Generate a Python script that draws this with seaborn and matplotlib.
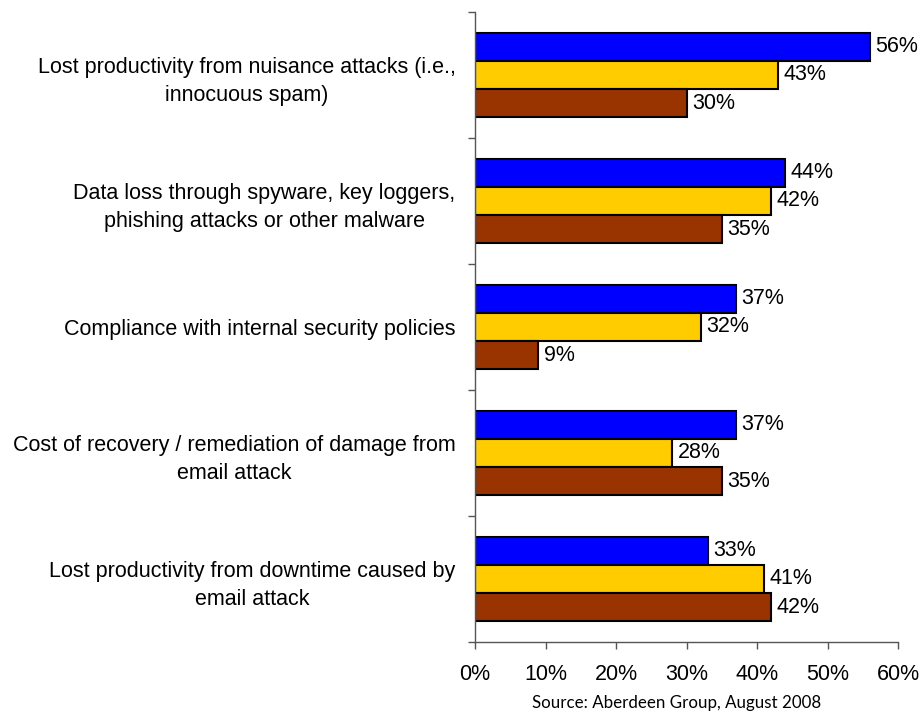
import matplotlib
matplotlib.use("Agg")
import matplotlib.pyplot as plt
import seaborn as sns
import pandas as pd
from matplotlib.ticker import FixedLocator, PercentFormatter

categories = [
    "Lost productivity from nuisance attacks (i.e.,\ninnocuous spam)",
    "Data loss through spyware, key loggers,\nphishing attacks or other malware",
    "Compliance with internal security policies",
    "Cost of recovery / remediation of damage from\nemail attack",
    "Lost productivity from downtime caused by\nemail attack",
]
series = ["Best-in-Class", "Industry Average", "Laggard"]
best = [56, 44, 37, 37, 33]
average = [43, 42, 32, 28, 41]
laggard = [30, 35, 9, 35, 42]
colors = ["#0000FF", "#FFCC00", "#993300"]
xticks = [0, 10, 20, 30, 40, 50, 60]

rows = []
for s, vals in zip(series, [best, average, laggard]):
    for c, v in zip(categories, vals):
        rows.append({"category": c, "series": s, "value": v})
df = pd.DataFrame(rows)

sns.set_style("white")
plt.rcParams["font.family"] = ["Liberation Sans", "DejaVu Sans"]

fig = plt.figure(figsize=(9.21, 7.12), dpi=100)
ax = fig.add_axes([475 / 921, 1 - 642 / 712, (898 - 475) / 921, (642 - 12) / 712])

sns.barplot(data=df, y="category", x="value", hue="series", order=categories,
            hue_order=series, palette=colors, orient="h", width=0.667,
            edgecolor="black", linewidth=1.5, saturation=1, legend=False, ax=ax)

for cont in ax.containers:
    ax.bar_label(cont, labels=[f"{int(round(b.get_width()))}%" for b in cont],
                 padding=4, fontsize=15.5, color="black")

ax.set_xlim(0, 60)
ax.set_ylim(len(categories) - 0.5, -0.5)
ax.set_xticks(xticks)
ax.xaxis.set_major_formatter(PercentFormatter(decimals=0))
ax.set_xlabel("")
ax.set_ylabel("")

for sp in ["top", "right"]:
    ax.spines[sp].set_visible(False)
for sp in ["left", "bottom"]:
    ax.spines[sp].set_color("#555555")
    ax.spines[sp].set_linewidth(1.0)

ax.tick_params(axis="x", direction="out", length=5, width=1, color="#555555",
               labelsize=15.5, pad=11, bottom=True, labelcolor="black")
ax.tick_params(axis="y", which="major", length=0, pad=14, labelsize=15.5, left=True,
               labelcolor="black")
ax.yaxis.set_minor_locator(FixedLocator([i - 0.5 for i in range(len(categories) + 1)]))
ax.tick_params(axis="y", which="minor", direction="out", length=5, width=1,
               color="#555555", left=True)
for lab in ax.get_yticklabels():
    lab.set_multialignment("center")
    lab.set_linespacing(1.48)

fig.text(677 / 921, 1 - 703 / 712, "Source: Aberdeen Group, August 2008",
         ha="center", va="center", fontsize=12.2, color="black",
         family=["Lato", "DejaVu Sans"])

fig.savefig("out.png", dpi=100)
